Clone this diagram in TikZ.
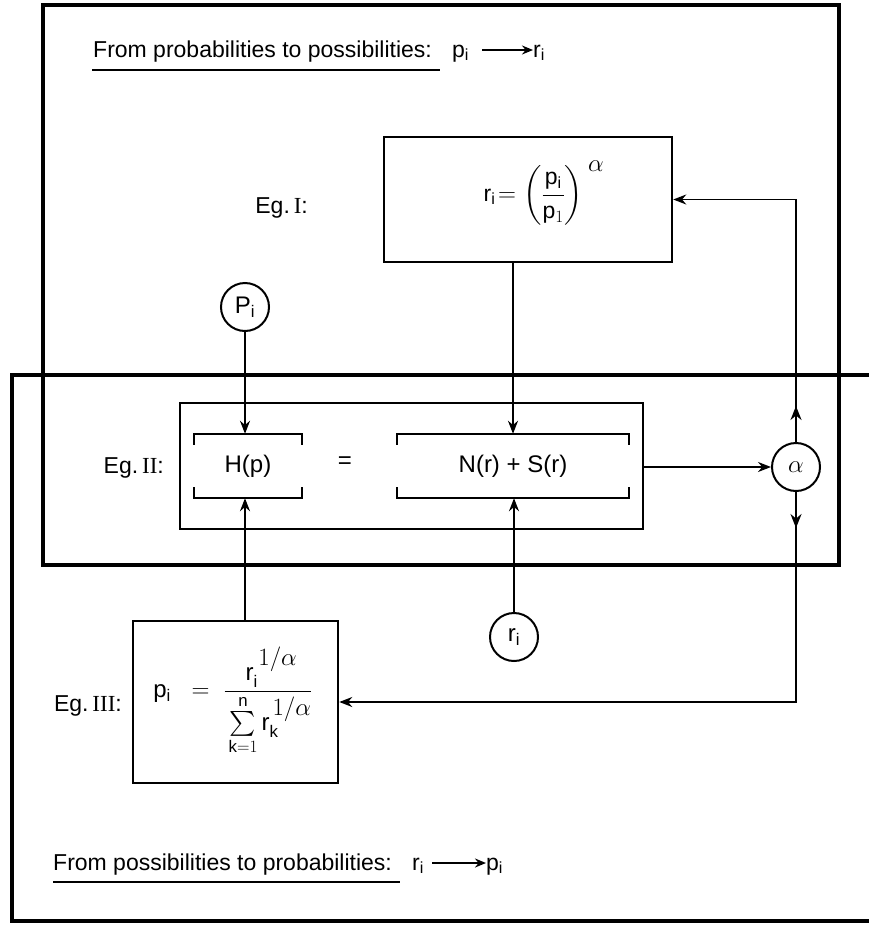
\documentclass[tikz,border=0pt]{standalone}
\usepackage{amsmath}
\usepackage{fontspec}
\setmainfont{Liberation Sans}
\newfontfamily\serifnum{Liberation Serif}
\usetikzlibrary{arrows.meta,decorations.markings,calc}
\begin{document}
\begin{tikzpicture}[x=1pt,y=-1pt,
  frame/.style={line width=3.5pt},
  eqbox/.style={draw,line width=2.5pt,rectangle,inner sep=0pt},
  brk/.style={rectangle,inner sep=0pt,font=\fontsize{24}{26}\selectfont},
  brkline/.style={line width=2.5pt},
  circ/.style={draw,circle,line width=2pt,minimum size=48pt,inner sep=0pt,font=\fontsize{24}{24}\selectfont},
  conn/.style={line width=1.8pt},
  arr/.style={conn,-{Stealth[length=13pt,width=10pt]}},
  smallarr/.style={line width=1.8pt,-{Stealth[length=11pt,width=9pt]}},
  lbl/.style={font=\fontsize{23}{26}\selectfont,inner sep=0pt},
  formula/.style={font=\fontsize{23}{26}\selectfont,inner sep=0pt},
  midup/.style={postaction={decorate,decoration={markings,mark=at position 36pt with {\arrow{Stealth[length=14pt,width=11pt]}}}}}
]
\useasboundingbox (0,0) rectangle (869,926);
\fill[white] (0,0) rectangle (869,926);

% frames
\draw[frame] (43,5) rectangle (839,565);
\draw[frame] (880,375) -- (12,375) -- (12,921) -- (880,921);

% titles
\node[lbl,anchor=base west] (t1) at (93,57) {From probabilities to possibilities:};
\draw[line width=2pt] ($(t1.base west)+(-1,13)$) -- ($(t1.base east)+(8,13)$);
\node[lbl,anchor=base west] (t1p) at (452,57) {$\mathrm{p}_{\mathrm{i}}$};
\node[lbl,anchor=base west] (t1r) at (533,57) {$\mathrm{r}_{\mathrm{i}}$};
\draw[smallarr] (482,50) -- (t1r.west |- 0,50);

\node[lbl,anchor=base west] (t2) at (53,870) {From possibilities to probabilities:};
\draw[line width=2pt] ($(t2.base west)+(0,12)$) -- ($(t2.base east)+(8,12)$);
\node[lbl,anchor=base west] (t2r) at (412,870) {$\mathrm{r}_{\mathrm{i}}$};
\node[lbl,anchor=base west] (t2p) at (486,870) {$\mathrm{p}_{\mathrm{i}}$};
\draw[smallarr] (432,863) -- (t2p.west |- 0,863);

% Eq I
\node[eqbox,minimum width=288pt,minimum height=125pt] (eq1) at (528,199.5) {};
\node[formula] (f1) at (544,193) {$\mathrm{r}_{\mathrm{i}}\!= \left(\dfrac{\mathrm{p}_{\mathrm{i}}}{\mathrm{p}_{1}}\right)^{\;\textstyle\alpha}$};
\node[lbl,anchor=east] (l1) at (308,208) {Eg.\,{\serifnum I}:};

% Eq II
\node[eqbox,minimum width=463pt,minimum height=126pt] (eq2) at (411.5,466) {};
\node[brk,minimum width=108pt,minimum height=64pt] (Hp) at (248,466) {H(p)};
\node[brk,minimum width=232pt,minimum height=64pt] (Nr) at (513,466) {N(r) + S(r)};
\node[brk] (eqs) at (345,463) {=};
\foreach \b in {Hp,Nr}{
  \draw[brkline] ($(\b.north west)+(0,11)$) -- (\b.north west) -- (\b.north east) -- ($(\b.north east)+(0,11)$);
  \draw[brkline] ($(\b.south west)+(0,-11)$) -- (\b.south west) -- (\b.south east) -- ($(\b.south east)+(0,-11)$);
}
\node[lbl,anchor=east] (l2) at (164,468) {Eg.\,{\serifnum II}:};

% Eq III
\node[eqbox,minimum width=205pt,minimum height=162pt] (eq3) at (235.5,702) {};
\node[formula,font=\fontsize{24}{26}\selectfont] (f3) at (233,701) {$\mathrm{p}_{\mathrm{i}}\;\;=\;\dfrac{\;\mathrm{r}_{\mathrm{i}}^{\;\textstyle 1/\alpha}}{\rule{0pt}{1.45em}\sum\limits_{\mathrm{k}=1}^{\mathrm{n}}\mathrm{r}_{\mathrm{k}}^{\,\textstyle 1/\alpha}}$};
\node[lbl,anchor=east] (l3) at (122,706) {Eg.\,{\serifnum III}:};

% circles
\node[circ] (pi) at (245,307) {$\mathrm{P}_{\mathrm{i}}$};
\node[circ] (ri) at (514,637) {$\mathrm{r}_{\mathrm{i}}$};
\node[circ,font=\fontsize{30}{30}\selectfont] (al) at (796,467) {$\alpha$};

% connectors
\draw[arr] (pi.south) -- (pi.south |- Hp.north);
\draw[arr] (pi.south |- eq3.north) -- (pi.south |- Hp.south);
\draw[arr] (Nr.north |- eq1.south) -- (Nr.north);
\draw[arr] (ri.north) -- (ri.north |- Nr.south);
\draw[arr] (eq2.east |- al.west) -- (al.west);
\draw[arr,midup] (al.north) |- (eq1.east);
\draw[arr,midup] (al.south) |- (eq3.east);
\end{tikzpicture}
\end{document}
